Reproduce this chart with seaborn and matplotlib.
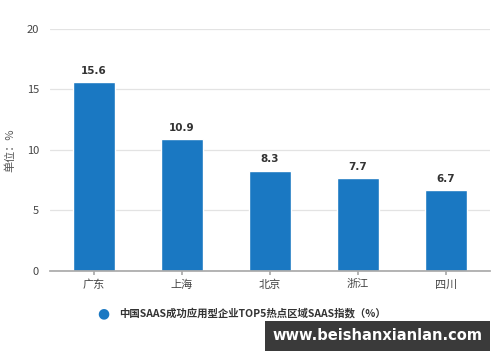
import matplotlib
matplotlib.use("Agg")
import matplotlib.pyplot as plt
import seaborn as sns
import pandas as pd

categories = ["广东", "上海", "北京", "浙江", "四川"]
values = [15.6, 10.9, 8.3, 7.7, 6.7]
series_name = "中国SAAS成功应用型企业TOP5热点区域SAAS指数（%）"
yticks = [0, 5, 10, 15, 20]

sns.set_theme(style="white")
plt.rcParams['font.family'] = ['Noto Sans CJK SC', 'DejaVu Sans']

df = pd.DataFrame({"region": categories, "value": values})

fig = plt.figure(figsize=(5, 3.62), dpi=100)
ax = fig.add_axes([0.1, 0.2514, 0.88, 0.6686])
color = "#1a78c2"
sns.barplot(data=df, x="region", y="value", color=color, width=0.47,
            saturation=1, ax=ax)
ax.set_ylim(0, 20)
ax.set_xlim(-0.5, 4.5)
ax.set_yticks(yticks)
ax.yaxis.grid(True, color="#e3e3e3", linewidth=0.9)
ax.set_axisbelow(True)
for s in ["top", "right", "left"]:
    ax.spines[s].set_visible(False)
ax.spines["bottom"].set_color("#aaaaaa")
ax.tick_params(axis="y", length=0, labelsize=8, labelcolor="#444444", pad=8)
ax.tick_params(axis="x", length=3, color="#aaaaaa", labelsize=8, labelcolor="#444444", pad=3)
ax.tick_params(axis="x", bottom=True)
ax.set_xlabel("")
ax.set_ylabel("单位：%", fontsize=8, color="#555555", labelpad=8)

for i, v in enumerate(values):
    ax.text(i, v + 0.5, f"{v}", ha="center", va="bottom", fontsize=7.5,
            fontweight="bold", color="#333333", family="DejaVu Sans")

# legend
fig.text(0.206, 1 - 313 / 362, "●", color=color, fontsize=10, ha="center", va="center",
         family="DejaVu Sans")
fig.text(0.238, 1 - 313 / 362, series_name, fontsize=7.5, fontweight="bold",
         color="#333333", ha="left", va="center")

# watermark box
fig.text(0.755, 1 - 336 / 362, "www.beishanxianlan.com", fontsize=10.5, fontweight="bold",
         color="white", ha="center", va="center", family="DejaVu Sans",
         bbox=dict(boxstyle="square,pad=0.5", facecolor="#3a3a3a", edgecolor="none"))

fig.savefig("out.png", dpi=100)
